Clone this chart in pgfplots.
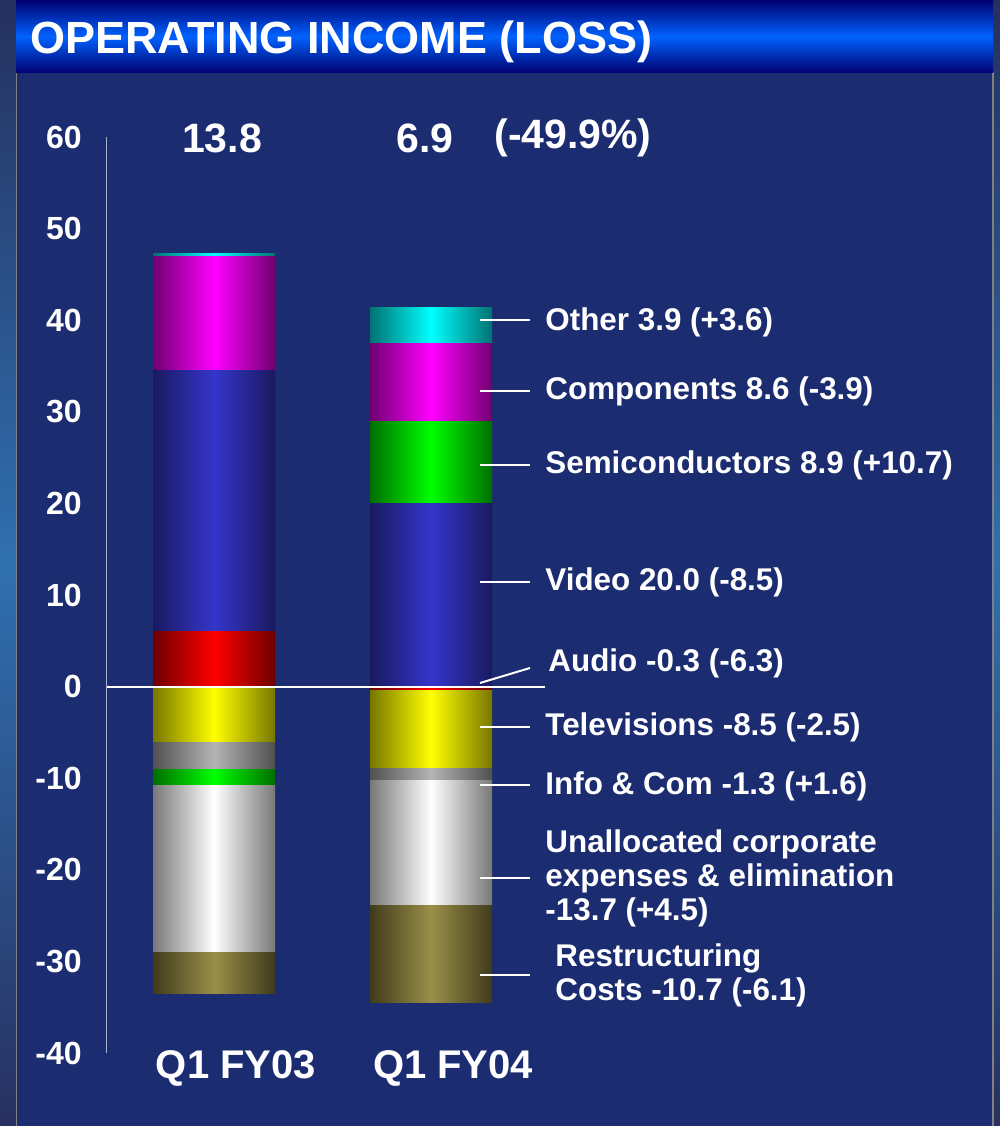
\documentclass[border=0pt]{standalone}
\usepackage{pgfplots}
\pgfplotsset{compat=1.18}
\usepackage{fontspec}
\setmainfont{Liberation Sans}

\definecolor{bg}{HTML}{1C2C70}
\definecolor{titleC}{HTML}{0062FF}
\definecolor{titleE}{HTML}{000070}
\definecolor{stripT}{HTML}{25305E}
\definecolor{stripM}{HTML}{3070B0}
\definecolor{stripB}{HTML}{283060}
\definecolor{redC}{HTML}{FF0000}\definecolor{redE}{HTML}{6E0000}
\definecolor{blueC}{HTML}{3535CC}\definecolor{blueE}{HTML}{1A1A60}
\definecolor{magC}{HTML}{FF00FF}\definecolor{magE}{HTML}{700070}
\definecolor{cyanC}{HTML}{00FFFF}\definecolor{cyanE}{HTML}{007272}
\definecolor{greenC}{HTML}{00FF00}\definecolor{greenE}{HTML}{006E00}
\definecolor{yelC}{HTML}{FFFF00}\definecolor{yelE}{HTML}{777700}
\definecolor{grayC}{HTML}{B4B4B4}\definecolor{grayE}{HTML}{505050}
\definecolor{whiteC}{HTML}{FFFFFF}\definecolor{whiteE}{HTML}{787878}
\definecolor{oliveC}{HTML}{9A8F48}\definecolor{oliveE}{HTML}{403B1C}

\pgfplotsset{
  shbar/.style n args={2}{draw=none, left color=#1, right color=#1, middle color=#2},
  common/.style={
    scale only axis, width=219pt, height=458pt,
    at={(53.5pt,36.5pt)}, anchor=south west,
    xmin=-0.493, xmax=1.525, ymin=-40, ymax=60,
    ybar stacked, bar width=61pt, clip=false,
  },
}

\begin{document}
\begin{tikzpicture}
% background
\fill[bg] (0,0) rectangle (500pt,563pt);
\shade[top color=stripT, bottom color=stripB, middle color=stripM] (0,0) rectangle (8pt,563pt);
\shade[top color=stripT, bottom color=stripB, middle color=stripM] (496.5pt,0) rectangle (500pt,563pt);
\fill[gray] (7.8pt,0) rectangle (8.6pt,527pt);
\fill[gray] (496.2pt,0) rectangle (497pt,527pt);
\shade[top color=titleE, bottom color=titleE, middle color=titleC] (8pt,526.5pt) rectangle (496.5pt,563pt);
\node[anchor=west, text=white, font=\fontsize{22.5}{27}\selectfont\bfseries, inner sep=0pt] at (15pt,542pt) {OPERATING INCOME (LOSS)};

% Q1 FY03, positive part
\begin{axis}[common,
  axis x line*=bottom, axis y line*=left,
  x axis line style={draw=none},
  y axis line style={draw={rgb,255:red,170;green,176;blue,205}, line width=0.5pt},
  major tick length=0pt,
  xtick={0,1}, xticklabels={Q1 FY03, Q1 FY04},
  xticklabel style={text=white, font=\fontsize{20}{24}\selectfont\bfseries, anchor=center, yshift=-7.5pt, xshift=11pt, inner sep=0pt},
  ytick={-40,-30,-20,-10,0,10,20,30,40,50,60},
  yticklabels={-40,-30,-20,-10,0,10,20,30,40,50,60},
  yticklabel style={text=white, font=\fontsize{16}{19}\selectfont\bfseries, anchor=east, inner sep=0pt, xshift=-12.5pt},
]
\addplot[shbar={redE}{redC}] coordinates {(0,6.0)};    % Audio
\addplot[shbar={blueE}{blueC}] coordinates {(0,28.5)}; % Video
\addplot[shbar={magE}{magC}] coordinates {(0,12.5)};   % Components
\addplot[shbar={cyanE}{cyanC}] coordinates {(0,0.3)};  % Other
\end{axis}

% Q1 FY03, negative part
\begin{axis}[common, hide axis]
\addplot[shbar={yelE}{yelC}] coordinates {(0,-6.0)};     % Televisions
\addplot[shbar={grayE}{grayC}] coordinates {(0,-2.9)};   % Info & Com
\addplot[shbar={greenE}{greenC}] coordinates {(0,-1.8)}; % Semiconductors
\addplot[shbar={whiteE}{whiteC}] coordinates {(0,-18.2)};% Unallocated
\addplot[shbar={oliveE}{oliveC}] coordinates {(0,-4.6)}; % Restructuring
\end{axis}

% Q1 FY04, positive part
\begin{axis}[common, hide axis]
\addplot[shbar={blueE}{blueC}] coordinates {(1,20.0)};  % Video
\addplot[shbar={greenE}{greenC}] coordinates {(1,8.9)}; % Semiconductors
\addplot[shbar={magE}{magC}] coordinates {(1,8.6)};     % Components
\addplot[shbar={cyanE}{cyanC}] coordinates {(1,3.9)};   % Other
\end{axis}

% Q1 FY04, negative part
\begin{axis}[common, hide axis]
\addplot[shbar={redE}{redC}] coordinates {(1,-0.3)};      % Audio
\addplot[shbar={yelE}{yelC}] coordinates {(1,-8.5)};      % Televisions
\addplot[shbar={grayE}{grayC}] coordinates {(1,-1.3)};    % Info & Com
\addplot[shbar={whiteE}{whiteC}] coordinates {(1,-13.7)}; % Unallocated
\addplot[shbar={oliveE}{oliveC}] coordinates {(1,-10.7)}; % Restructuring
\end{axis}

% zero line on top of the bars
\draw[white, line width=1pt] (53.5pt,219.7pt) -- (272.5pt,219.7pt);

% totals
\begin{scope}[every node/.style={text=white, font=\fontsize{20.5}{24}\selectfont\bfseries, inner sep=0pt}]
\node at (111pt,494pt) {13.8};
\node at (212.5pt,494pt) {6.9};
\node at (286.5pt,494pt) {(-49.9\%)};
\end{scope}

% segment labels
\begin{scope}[every node/.style={text=white, anchor=west, align=left, inner sep=0pt, font=\fontsize{15.7}{17}\selectfont\bfseries}]
\draw[white, line width=1pt] (240pt,403pt) -- (265pt,403pt);
\node at (272.5pt,402pt) {Other 3.9 (+3.6)};
\draw[white, line width=1pt] (240pt,367.5pt) -- (265pt,367.5pt);
\node at (272.5pt,367.5pt) {Components 8.6 (-3.9)};
\draw[white, line width=1pt] (240pt,330.5pt) -- (265pt,330.5pt);
\node at (272.5pt,330.5pt) {Semiconductors 8.9 (+10.7)};
\draw[white, line width=1pt] (240pt,272pt) -- (265pt,272pt);
\node at (272.5pt,272pt) {Video 20.0 (-8.5)};
\draw[white, line width=1pt] (240pt,221.5pt) -- (265pt,229pt);
\node at (274pt,231.5pt) {Audio -0.3 (-6.3)};
\draw[white, line width=1pt] (240pt,199.5pt) -- (265pt,199.5pt);
\node at (272.5pt,199.5pt) {Televisions -8.5 (-2.5)};
\draw[white, line width=1pt] (240pt,170.5pt) -- (265pt,170.5pt);
\node at (272.5pt,170pt) {Info \& Com -1.3 (+1.6)};
\draw[white, line width=1pt] (240pt,124pt) -- (265pt,124pt);
\node at (272.5pt,124pt) {Unallocated corporate\\expenses \& elimination\\-13.7 (+4.5)};
\draw[white, line width=1pt] (240pt,75.5pt) -- (265pt,75.5pt);
\node at (277.5pt,75.5pt) {Restructuring\\Costs -10.7 (-6.1)};
\end{scope}
\end{tikzpicture}
\end{document}
